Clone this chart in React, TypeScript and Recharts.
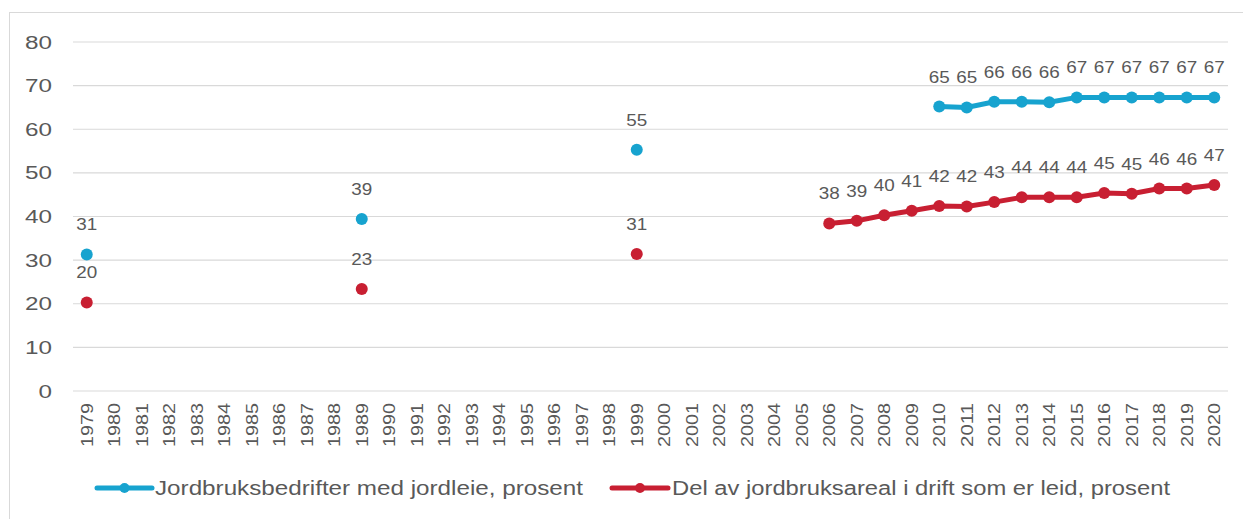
import { LineChart, Line, XAxis, YAxis, CartesianGrid, Legend, LabelList } from 'recharts';

const years = [
  '1979', '1980', '1981', '1982', '1983', '1984', '1985', '1986', '1987', '1988',
  '1989', '1990', '1991', '1992', '1993', '1994', '1995', '1996', '1997', '1998',
  '1999', '2000', '2001', '2002', '2003', '2004', '2005', '2006', '2007', '2008',
  '2009', '2010', '2011', '2012', '2013', '2014', '2015', '2016', '2017', '2018',
  '2019', '2020',
];

// Jordbruksbedrifter med jordleie, prosent
const jordleie = [
  31.3, null, null, null, null, null, null, null, null, null,
  39.4, null, null, null, null, null, null, null, null, null,
  55.3, null, null, null, null, null, null, null, null, null,
  null, 65.2, 65.0, 66.3, 66.3, 66.2, 67.3, 67.3, 67.3, 67.3,
  67.3, 67.3,
];

// Del av jordbruksareal i drift som er leid, prosent
const leidAreal = [
  20.3, null, null, null, null, null, null, null, null, null,
  23.4, null, null, null, null, null, null, null, null, null,
  31.4, null, null, null, null, null, null, 38.4, 39.0, 40.3,
  41.3, 42.4, 42.3, 43.3, 44.4, 44.4, 44.4, 45.4, 45.2, 46.4,
  46.4, 47.2,
];

const yTicks = [0, 10, 20, 30, 40, 50, 60, 70, 80];

const seriesNames = [
  'Jordbruksbedrifter med jordleie, prosent',
  'Del av jordbruksareal i drift som er leid, prosent',
];

const BLUE = '#17a3cf';
const RED = '#c81f32';
const TEXT = '#595959';
const FONT = '"Liberation Sans", Arial, sans-serif';

const data = years.map((year, i) => ({
  year,
  jordleie: jordleie[i],
  leidAreal: leidAreal[i],
}));

function YearTick({ x, y, payload }: any) {
  return (
    <g transform={`translate(${x},${y + 4})`}>
      <text
        x={0}
        y={0}
        dy={6}
        textAnchor="end"
        transform="rotate(-90)"
        fontSize={16}
        textLength={44}
        lengthAdjust="spacingAndGlyphs"
        fill={TEXT}
        fontFamily={FONT}
      >
        {payload.value}
      </text>
    </g>
  );
}

function ValueTick({ x, y, payload }: any) {
  const s = String(payload.value);
  return (
    <text
      x={x}
      y={y}
      dy={6.5}
      textAnchor="end"
      fontSize={18}
      textLength={s.length * 13.5}
      lengthAdjust="spacingAndGlyphs"
      fill={TEXT}
      fontFamily={FONT}
    >
      {s}
    </text>
  );
}

function PointLabel(props: any) {
  const { value } = props;
  if (value == null) return null;
  const x = props.x ?? props.viewBox?.x;
  const y = props.y ?? props.viewBox?.y;
  const s = String(Math.round(Number(value)));
  return (
    <text
      x={x}
      y={y - 24}
      textAnchor="middle"
      fontSize={17}
      textLength={s.length * 10.5}
      lengthAdjust="spacingAndGlyphs"
      fill={TEXT}
      fontFamily={FONT}
    >
      {s}
    </text>
  );
}

function LegendContent() {
  const items = [
    { name: seriesNames[0], color: BLUE, x1: 97, x2: 152, tx: 155, tl: 428 },
    { name: seriesNames[1], color: RED, x1: 612, x2: 668, tx: 672, tl: 498 },
  ];
  return (
    <svg width={1243} height={30} style={{ display: 'block' }}>
      {items.map((it) => (
        <g key={it.name}>
          <line x1={it.x1} y1={15} x2={it.x2} y2={15} stroke={it.color} strokeWidth={5} strokeLinecap="round" />
          <circle cx={(it.x1 + it.x2) / 2} cy={15} r={5} fill={it.color} />
          <text
            x={it.tx}
            y={15}
            dy={7}
            fontSize={20}
            textLength={it.tl}
            lengthAdjust="spacingAndGlyphs"
            fill={TEXT}
            fontFamily={FONT}
          >
            {it.name}
          </text>
        </g>
      ))}
    </svg>
  );
}

export default function App() {
  return (
    <div style={{ position: 'absolute', left: 0, top: 0, width: 1243, height: 519, overflow: 'hidden', background: '#fff' }}>
      <div
        style={{
          position: 'absolute',
          left: 9,
          top: 12,
          width: 1260,
          height: 540,
          border: '1px solid #d9d9d9',
        }}
      />
      <div style={{ position: 'absolute', left: 0, top: 0 }}>
        <LineChart
          width={1243}
          height={519}
          data={data}
          margin={{ top: 42, right: 15, left: 10, bottom: 16 }}
        >
          <CartesianGrid vertical={false} stroke="#d9d9d9" strokeWidth={1.2} />
          <XAxis
            dataKey="year"
            scale="band"
            interval={0}
            tickLine={false}
            axisLine={false}
            tick={<YearTick />}
            height={82}
          />
          <YAxis
            domain={[0, 80]}
            ticks={yTicks}
            tickLine={false}
            axisLine={false}
            width={63}
            tick={<ValueTick />}
            tickMargin={15}
          />
          <Legend
            verticalAlign="bottom"
            height={30}
            wrapperStyle={{ left: 0, width: 1243 }}
            content={<LegendContent />}
          />
          <Line
            dataKey="jordleie"
            name={seriesNames[0]}
            stroke={BLUE}
            strokeWidth={5}
            dot={{ r: 6, fill: BLUE, stroke: BLUE, strokeWidth: 0 }}
            isAnimationActive={false}
          >
            <LabelList dataKey="jordleie" content={<PointLabel />} />
          </Line>
          <Line
            dataKey="leidAreal"
            name={seriesNames[1]}
            stroke={RED}
            strokeWidth={5}
            dot={{ r: 6, fill: RED, stroke: RED, strokeWidth: 0 }}
            isAnimationActive={false}
          >
            <LabelList dataKey="leidAreal" content={<PointLabel />} />
          </Line>
        </LineChart>
      </div>
    </div>
  );
}
